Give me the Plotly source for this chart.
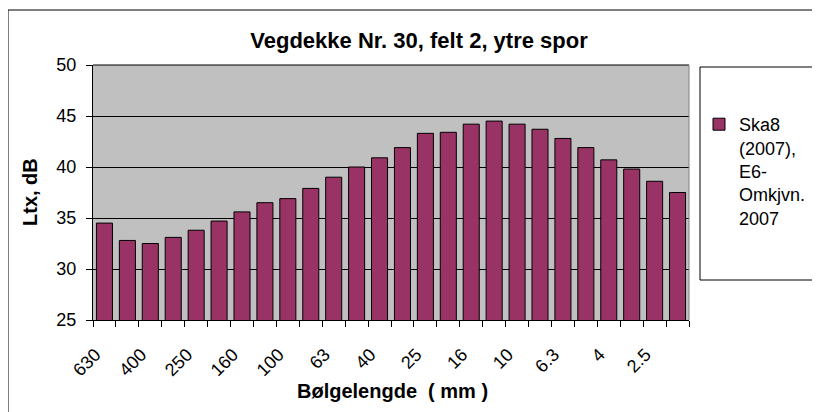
import plotly.graph_objects as go

categories = ["630", "500", "400", "315", "250", "200", "160", "125", "100", "80",
              "63", "50", "40", "31.5", "25", "20", "16", "12.5", "10", "8",
              "6.3", "5", "4", "3.15", "2.5", "2"]
values = [34.5, 32.8, 32.5, 33.1, 33.8, 34.7, 35.6, 36.5, 36.9, 37.9,
          39.0, 40.0, 40.9, 41.9, 43.3, 43.4, 44.2, 44.5, 44.2, 43.7,
          42.8, 41.9, 40.7, 39.8, 38.6, 37.5]
tick_labels = [c if i % 2 == 0 else "" for i, c in enumerate(categories)]
series_name = "Ska8<br>(2007),<br>E6-<br>Omkjvn.<br>2007"
title_text = "Vegdekke Nr. 30, felt 2, ytre spor"
x_title = "Bølgelengde  ( mm )"
y_title = "Ltx, dB"

FONT = "Arial, 'Liberation Sans', sans-serif"

fig = go.Figure()
fig.add_trace(go.Bar(
    x=categories, y=values, name=series_name,
    marker=dict(color="#993366", line=dict(color="black", width=1)),
    showlegend=True,
))

# page body has an 8px margin: figure origin sits at (8, 8) in the screenshot
OFF = 8
W, H = 820, 412
# target plot area in screenshot pixels
PX0, PX1, PY0, PY1 = 93, 689, 65, 320
L = PX0 - OFF
T = PY0 - OFF
R = W - L - (PX1 - PX0)
B = H - T - (PY1 - PY0)
pw, ph = PX1 - PX0, PY1 - PY0

def px(x):
    return (x - PX0) / pw

def py(y):
    return (PY1 - y) / ph

fig.update_layout(
    width=W, height=H,
    margin=dict(l=L, r=R, t=T, b=B, autoexpand=False),
    paper_bgcolor="white",
    plot_bgcolor="#C0C0C0",
    font=dict(family=FONT, color="black", size=17),
    bargap=0.3,
    title=dict(text="<b>" + title_text + "</b>", x=(419 - OFF) / W, xref="container",
               xanchor="center", y=1 - (40 - OFF) / H, yref="container", yanchor="middle",
               font=dict(size=22, family=FONT, color="black")),
    xaxis=dict(
        type="category", tickmode="array", tickvals=categories, ticktext=tick_labels,
        tickson="boundaries", ticks="outside", ticklen=6, tickcolor="black",
        tickangle=-45, showline=True, linecolor="black", linewidth=1,
        showgrid=False, tickfont=dict(size=18), ticklabelstandoff=16,
        ticklabelshift=-9, automargin=False,
    ),
    yaxis=dict(
        range=[25, 50], dtick=5, tick0=25, ticks="outside", ticklen=6, tickcolor="black",
        showline=True, linecolor="black", linewidth=1,
        showgrid=True, gridcolor="black", gridwidth=1, zeroline=False,
        tickfont=dict(size=18), ticklabelstandoff=6, automargin=False,
    ),
    legend=dict(x=px(699), y=py(106), xanchor="left", yanchor="top",
                bgcolor="rgba(0,0,0,0)", borderwidth=0, valign="top",
                font=dict(size=18, family=FONT), itemwidth=30),
    annotations=[
        dict(text="<b>" + x_title + "</b>", x=px(392), y=py(391), xref="paper", yref="paper",
             showarrow=False, xanchor="center", yanchor="middle", font=dict(size=20)),
        dict(text="<b>" + y_title + "</b>", x=px(30), y=py(192), xref="paper", yref="paper",
             showarrow=False, xanchor="center", yanchor="middle", textangle=-90,
             font=dict(size=20)),
    ],
    shapes=[
        # outer chart frame
        dict(type="rect", xref="paper", yref="paper", x0=px(8), y0=py(440), x1=px(850), y1=py(10),
             line=dict(color="black", width=1), layer="above"),
        # legend box
        dict(type="rect", xref="paper", yref="paper", x0=px(700), y0=py(280), x1=px(850), y1=py(67),
             line=dict(color="black", width=1), layer="above"),
        # plot area top and right border
        dict(type="line", xref="paper", yref="paper", x0=0, y0=1, x1=1, y1=1,
             line=dict(color="black", width=1)),
        dict(type="line", xref="paper", yref="paper", x0=1, y0=0, x1=1, y1=1,
             line=dict(color="#808080", width=1)),
    ],
)

fig.write_html("out.html")
